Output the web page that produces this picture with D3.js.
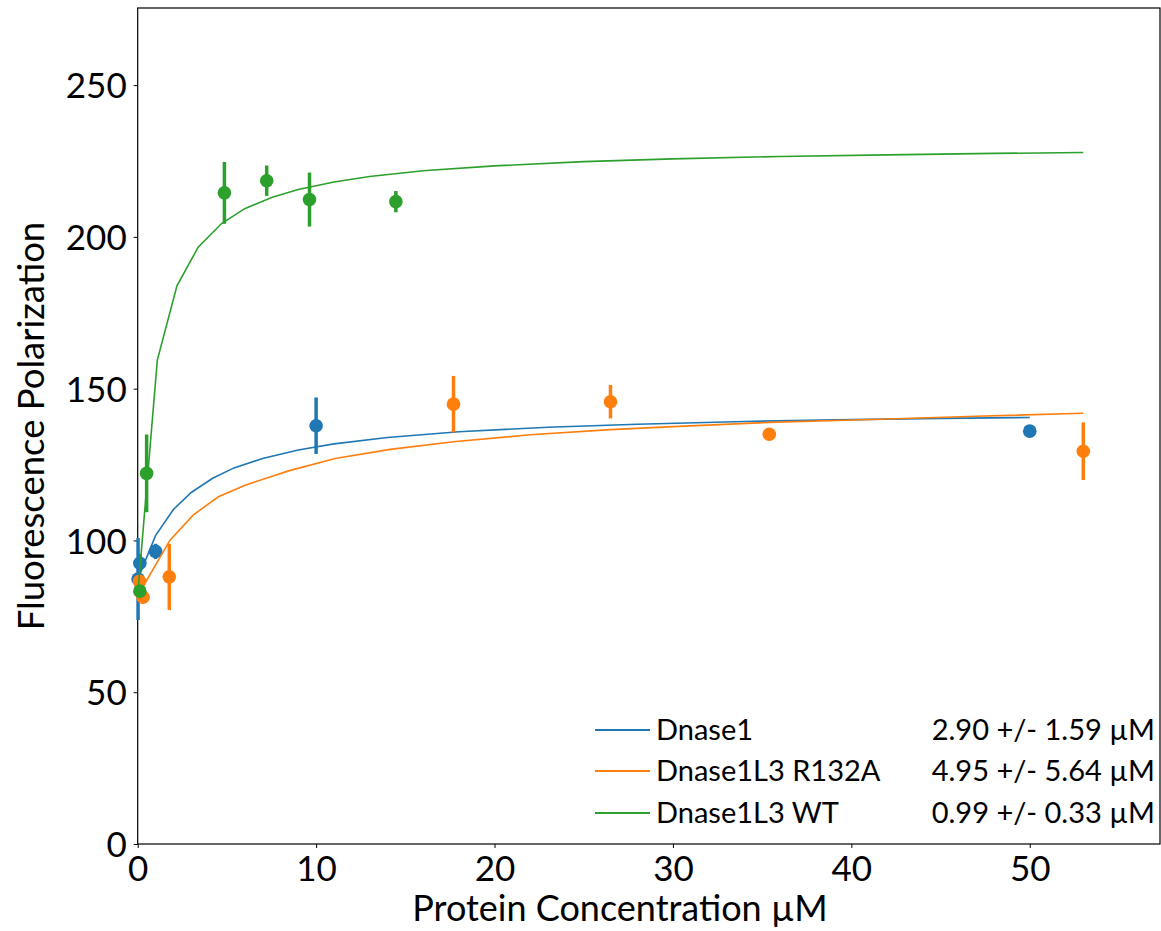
<!DOCTYPE html>
<html>
<head>
<meta charset="utf-8">
<script src="https://cdn.jsdelivr.net/npm/d3@7"></script>
<style>
  body { margin: 0; background: #fff; }
  svg text { font-family: Lato, "Open Sans", sans-serif; fill: #000; }
</style>
</head>
<body>
<div id="chart"></div>
<script>
// measured points: [concentration, polarization, error]
const dnase1Points = [
  [0.02, 87.3, 13.5], [0.12, 92.5, 3], [1.0, 96.4, 2.5], [10.0, 137.8, 9.3], [50.0, 136.0, 0.8]
];
const r132aPoints = [
  [0.1, 86.5, 2], [0.3, 81.3, 1.5], [1.77, 88.0, 10.9], [17.7, 144.9, 9.3],
  [26.5, 145.7, 5.5], [35.4, 135.0, 0.8], [53.0, 129.4, 9.5]
];
const wtPoints = [
  [0.12, 83.3, 2], [0.5, 122.1, 12.8], [4.86, 214.5, 10.2], [7.23, 218.5, 5],
  [9.63, 212.3, 8.9], [14.47, 211.6, 3.5]
];

// fitted curves: [concentration, polarization]
const dnase1Fit = [
  [0.02, 87.5], [1.0, 101.6], [2.0, 110.2], [3.0, 115.8], [4.2, 120.5], [5.4, 123.9],
  [7, 127.0], [9, 129.8], [11, 131.8], [14, 133.9], [18, 135.8], [23, 137.3],
  [28, 138.3], [34, 139.2], [40, 139.8], [45, 140.2], [50, 140.5]
];
const r132aFit = [
  [0.05, 83.5], [0.41, 85.9], [1.81, 100.1], [3.12, 108.4], [4.52, 114.4], [6.02, 118.2],
  [8.5, 123.0], [11.07, 127.0], [14.15, 130.0], [17.7, 132.5], [22, 134.8], [26.5, 136.5],
  [30, 137.5], [35.4, 138.9], [41.6, 139.9], [47, 140.9], [53, 141.9]
];
const wtFit = [
  [0.02, 83.5], [1.1, 159.4], [2.2, 183.9], [3.4, 196.7], [4.7, 204.4], [6.0, 209.3],
  [7.5, 213.0], [9, 215.6], [11, 218.1], [13, 219.9], [16, 221.8], [20, 223.4],
  [25, 224.8], [30, 225.7], [36, 226.5], [42, 227.0], [48, 227.5], [53, 227.8]
];

const seriesNames = ["Dnase1", "Dnase1L3 R132A", "Dnase1L3 WT"];
const kdLabels = ["2.90 +/- 1.59 \u00b5M", "4.95 +/- 5.64 \u00b5M", "0.99 +/- 0.33 \u00b5M"];
const colors = ["#1f77b4", "#ff7f0e", "#2ca02c"];
const xTicks = [0, 10, 20, 30, 40, 50];
const yTicks = [0, 50, 100, 150, 200, 250];

const width = 1161, height = 931;
const margin = { top: 8, right: 1, bottom: 87, left: 137.7 };

const svg = d3.select("#chart").append("svg")
  .attr("width", width)
  .attr("height", height);

const x = d3.scaleLinear().domain([0, 57.3]).range([margin.left, width - margin.right]);
const y = d3.scaleLinear().domain([0, 275.4]).range([height - margin.bottom, margin.top]);

// axes
const xAxis = svg.append("g")
  .attr("transform", `translate(0,${height - margin.bottom})`)
  .call(d3.axisBottom(x).tickValues(xTicks).tickSize(4).tickPadding(8).tickFormat(d3.format("d")));
const yAxis = svg.append("g")
  .attr("transform", `translate(${margin.left},0)`)
  .call(d3.axisLeft(y).tickValues(yTicks).tickSize(4).tickPadding(7).tickFormat(d3.format("d")));

[xAxis, yAxis].forEach(g => {
  g.select(".domain").remove();
  g.selectAll(".tick line").attr("stroke", "#000").attr("stroke-width", 1);
  g.selectAll(".tick text").style("font-size", "35px").attr("fill", "#000");
});
yAxis.selectAll(".tick text").attr("dy", "0.36em");

// frame
svg.append("rect")
  .attr("x", margin.left)
  .attr("y", margin.top)
  .attr("width", width - margin.right - margin.left)
  .attr("height", height - margin.bottom - margin.top)
  .attr("fill", "none")
  .attr("stroke", "#000")
  .attr("stroke-width", 1.2);

const plot = svg.append("g");
const line = d3.line().x(d => x(d[0])).y(d => y(d[1]));

const allPoints = [dnase1Points, r132aPoints, wtPoints];
const allFits = [dnase1Fit, r132aFit, wtFit];

allPoints.forEach((pts, i) => {
  const g = plot.append("g");
  g.selectAll("line.err")
    .data(pts)
    .join("line")
    .attr("class", "err")
    .attr("x1", d => x(d[0]))
    .attr("x2", d => x(d[0]))
    .attr("y1", d => y(d[1] - d[2]))
    .attr("y2", d => y(d[1] + d[2]))
    .attr("stroke", colors[i])
    .attr("stroke-width", 3.5);
  g.selectAll("circle")
    .data(pts)
    .join("circle")
    .attr("cx", d => x(d[0]))
    .attr("cy", d => y(d[1]))
    .attr("r", 6.8)
    .attr("fill", colors[i]);
  g.append("path")
    .datum(allFits[i])
    .attr("d", line)
    .attr("fill", "none")
    .attr("stroke", colors[i])
    .attr("stroke-width", 1.6);
});

// legend
const legend = svg.append("g");
const legendY = [730, 771, 813];
seriesNames.forEach((name, i) => {
  legend.append("line")
    .attr("x1", 595).attr("x2", 650)
    .attr("y1", legendY[i]).attr("y2", legendY[i])
    .attr("stroke", colors[i])
    .attr("stroke-width", 1.8);
  legend.append("text")
    .attr("x", 656)
    .attr("y", legendY[i])
    .attr("dy", "0.35em")
    .style("font-size", "29px")
    .text(name);
  legend.append("text")
    .attr("x", 1155)
    .attr("y", legendY[i])
    .attr("dy", "0.35em")
    .attr("text-anchor", "end")
    .style("font-size", "29px")
    .text(kdLabels[i]);
});

// axis labels
svg.append("text")
  .attr("x", 620)
  .attr("y", 921)
  .attr("text-anchor", "middle")
  .style("font-size", "36px")
  .text("Protein Concentration \u00b5M");

svg.append("text")
  .attr("transform", `translate(44,426) rotate(-90)`)
  .attr("text-anchor", "middle")
  .style("font-size", "36.5px")
  .text("Fluorescence Polarization");
</script>
</body>
</html>
